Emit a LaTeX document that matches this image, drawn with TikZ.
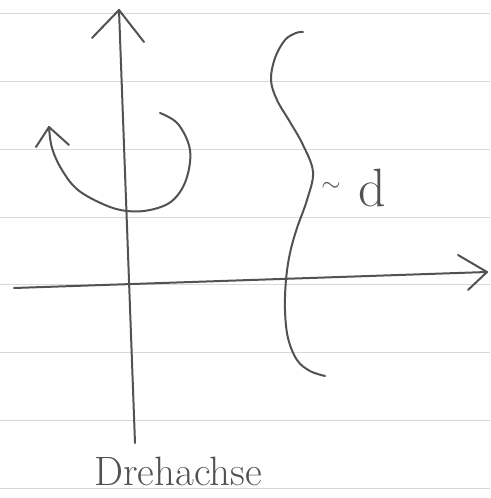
\documentclass[tikz,border=0pt]{standalone}
\usetikzlibrary{calc}
\begin{document}
\begin{tikzpicture}[x=1pt,y=-1pt,
  pencil/.style={draw=black!68,line width=2pt,line cap=round,line join=round},
  ruled/.style={draw=black!15,line width=0.7pt},
  handtext/.style={text=black!68,inner sep=0pt}]
\useasboundingbox (0,0) rectangle (490,498);
% lined paper
\foreach \yy in {13,81,149,217,284,352,420,488}
  \draw[ruled] (0,\yy) -- (490,\yy);
% vertical axis (Drehachse)
\coordinate (vbot) at (135,443);
\coordinate (vtop) at (119,10);
\draw[pencil] (vbot) -- (vtop);
\draw[pencil] (92,38) -- (vtop) -- (144,42);
% horizontal axis
\coordinate (hleft) at (14,288);
\coordinate (hright) at (487,272);
\draw[pencil] (hleft) -- (hright);
\draw[pencil] (458,255) -- (hright) -- (468,290);
% rotation arrow
\coordinate (rstart) at (160,113);
\coordinate (rtip) at (49,127);
\draw[pencil] plot[smooth,tension=0.6] coordinates
  {(rstart) (178,124) (190,150) (186,180) (172,201) (150,210) (127,211) (105,205) (78,190) (62,170) (52,148) (rtip)};
\draw[pencil] (36,147) -- (rtip) -- (69,145);
% wavy line
\draw[pencil] plot[smooth,tension=0.6] coordinates
  {(303,32) (296,33) (285,40) (275,58) (271,80) (277,100) (290,122) (303,145) (313,172) (307,200) (297,228) (290,253) (286,280) (285,310) (288,338) (297,360) (310,371) (325,376)};
% label
\node[handtext,font=\fontsize{30}{30}\selectfont] (tilde) at (331,187) {$\sim$};
\node[handtext,font=\fontsize{54}{54}\selectfont] (dsym) at (372,188) {d};
\node[handtext,font=\fontsize{41}{41}\selectfont] (axislabel) at (178,471) {Drehachse};
\end{tikzpicture}
\end{document}
